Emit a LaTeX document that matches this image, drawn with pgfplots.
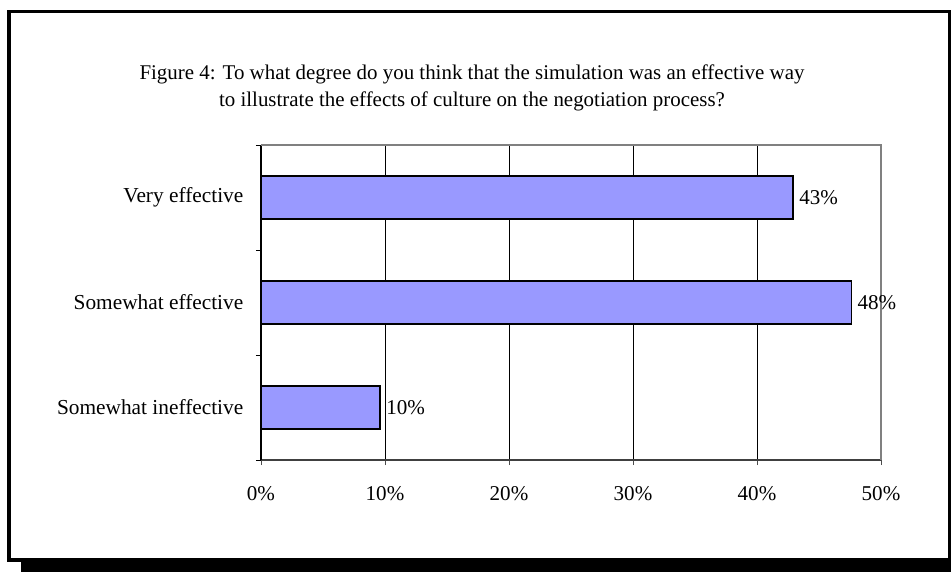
\documentclass[border=0pt]{standalone}
\usepackage{pgfplots}
\pgfplotsset{compat=1.18}
\usepackage{fontspec}
\setmainfont{Liberation Serif}
\definecolor{barblue}{HTML}{9999FF}
\begin{document}
\begin{tikzpicture}[x=0.75pt,y=0.75pt]
\useasboundingbox (0,0) rectangle (951,-572);
\fill[black] (21,-560) rectangle (951,-572);
\draw[line width=2.6pt] (9,-560) -- (9,-11.5) -- (949.5,-11.5) -- (949.5,-560) -- cycle;
\node[anchor=base, font=\fontsize{15.7}{18}\selectfont] at (472,-79) {Figure 4: To what degree do you think that the simulation was an effective way};
\node[anchor=base, font=\fontsize{15.7}{18}\selectfont] at (472,-106) {to illustrate the effects of culture on the negotiation process?};
\begin{axis}[
  at={(195.75pt,-345pt)}, anchor=south west,
  scale only axis, width=465pt, height=236.25pt,
  xbar, xmin=0, xmax=50, ymin=-0.5, ymax=2.5,
  bar width=32.25pt,
  axis x line*=bottom, axis y line*=left,
  x axis line style={line width=1.1pt, black!75, -},
  y axis line style={line width=0.8pt, black, -},
  xtick={0,10,...,50},
  xticklabel={\pgfmathprintnumber{\tick}\%},
  ytick={0,1,2},
  yticklabels={Somewhat ineffective, Somewhat effective, Very effective},
  minor ytick={-0.5,0.5,1.5,2.5},
  tick align=outside,
  major tick length=3.75pt,
  minor tick length=3.75pt,
  ytick style={draw=none},
  minor y tick style={draw=black, line width=0.6pt},
  xtick style={black!70, line width=0.6pt},
  xmajorgrids,
  major grid style={black, line width=0.6pt},
  xticklabel style={font=\fontsize{15.8}{18}\selectfont, yshift=-12.5pt},
  yticklabel style={font=\fontsize{16}{18}\selectfont, xshift=-6pt},
  /pgf/number format/assume math mode=true,
  nodes near coords={\pgfmathprintnumber{\pgfplotspointmeta}\%},
  nodes near coords style={font=\fontsize{15.8}{18}\selectfont, anchor=west, xshift=1pt},
  point meta=explicit,
  clip=false,
]
\addplot[fill=barblue, draw=black, line width=0.9pt] table[x=v, y=c, meta=lab] {
c v lab
0 9.6 10
1 47.6 48
2 42.9 43
};
\draw[black!50, line width=0.8pt] (rel axis cs:0,1) -- (rel axis cs:1,1) -- (rel axis cs:1,0);
\end{axis}
\end{tikzpicture}
\end{document}
